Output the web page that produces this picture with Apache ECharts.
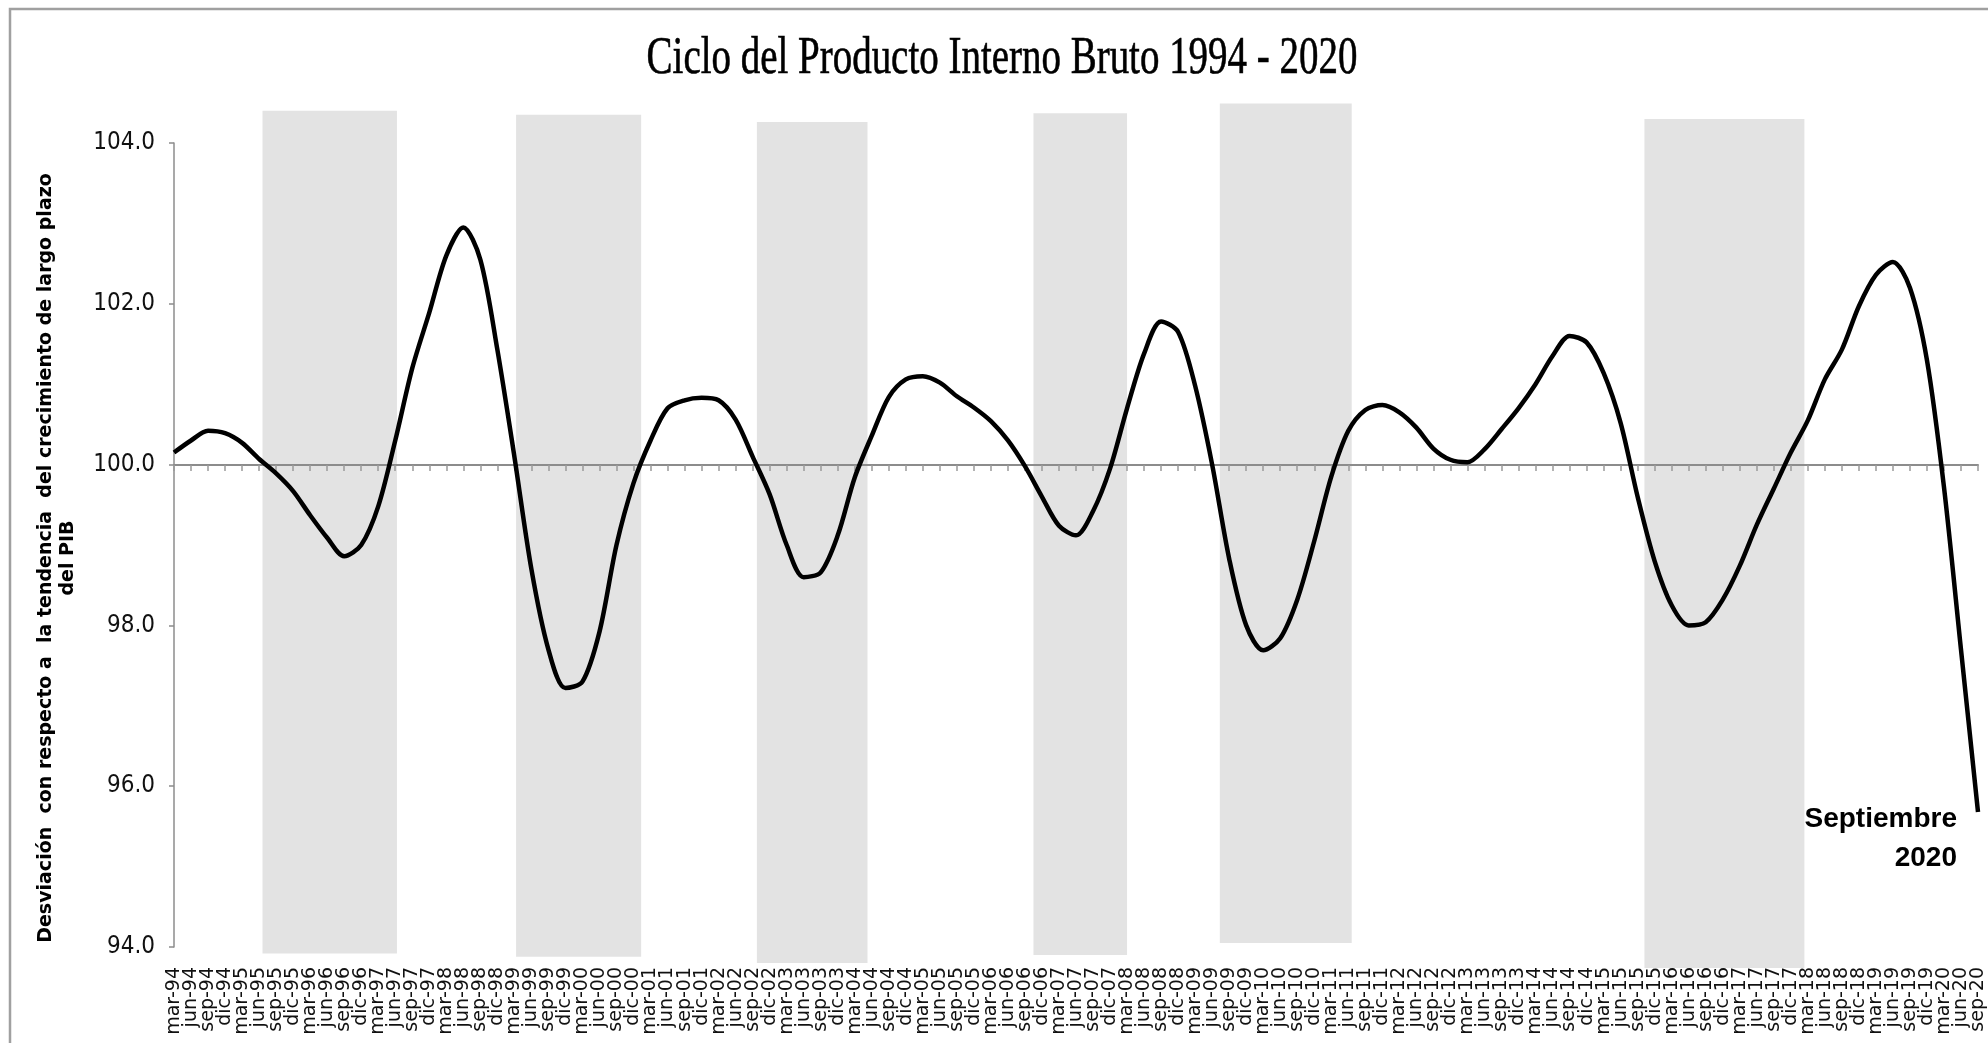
<!DOCTYPE html>
<html>
<head>
<meta charset="utf-8">
<title>Ciclo del PIB</title>
<script src="https://cdn.jsdelivr.net/npm/echarts@6/dist/echarts.min.js"></script>
<style>
    html, body { margin: 0; padding: 0; background: #fff; overflow: hidden; }
    #chart { width: 1988px; height: 1043px; }
</style>
</head>
<body>
<div id="chart"></div>
<script>
// trimestres: mar-94 ... sep-20
const months = ['mar', 'jun', 'sep', 'dic'];
const years = ['94', '95', '96', '97', '98', '99', '00', '01', '02', '03', '04', '05', '06',
    '07', '08', '09', '10', '11', '12', '13', '14', '15', '16', '17', '18', '19', '20'];
const quarters = [];
years.forEach(function (y, k) {
    const n = k === years.length - 1 ? 3 : 4;
    for (let m = 0; m < n; m++) quarters.push(months[m] + '-' + y);
});

// ciclo del PIB (indice, tendencia = 100)
const gdp = [
    100.15, 100.30, 100.42, 100.39, 100.27, 100.07, 99.89, 99.67, 99.37, 99.09,
    98.86, 99.00, 99.48, 100.30, 101.20, 101.89, 102.60, 102.95, 102.55, 101.43,
    100.10, 98.70, 97.70, 97.22, 97.30, 97.92, 99.00, 99.77, 100.30, 100.70,
    100.80, 100.83, 100.80, 100.56, 100.10, 99.63, 99.00, 98.60, 98.66, 99.12,
    99.84, 100.36, 100.84, 101.06, 101.10, 101.02, 100.85, 100.71, 100.54, 100.30,
    99.98, 99.60, 99.24, 99.12, 99.42, 99.95, 100.70, 101.38, 101.78, 101.65,
    100.98, 100.00, 98.83, 98.00, 97.69, 97.84, 98.32, 99.05, 99.85, 100.42,
    100.68, 100.74, 100.65, 100.46, 100.20, 100.06, 100.03, 100.19, 100.44, 100.70,
    101.00, 101.35, 101.60, 101.52, 101.14, 100.52, 99.60, 98.80, 98.25, 98.00,
    98.04, 98.32, 98.74, 99.25, 99.70, 100.15, 100.55, 101.06, 101.43, 101.97,
    102.36, 102.52, 102.20, 101.30, 99.72, 97.70, 95.68
];

// franjas grises (posicion en trimestres desde mar-94, y altura en el eje)
const bandStart = [5.2, 20.1, 34.25, 50.5, 61.45, 86.4];
const bandEnd = [13.1, 27.45, 40.75, 56.0, 69.2, 95.8];
const bandTop = [104.40, 104.35, 104.26, 104.37, 104.49, 104.30];
const bandBottom = [93.92, 93.88, 93.80, 93.90, 94.05, 93.74];

const yTicks = [94, 96, 98, 100, 102, 104];

var myChart = echarts.init(document.getElementById('chart'));

var option = {
    animation: false,
    backgroundColor: '#ffffff',
    grid: {
        left: 174,
        right: 10,
        top: 143,
        bottom: 96
    },
    xAxis: [
        {
            // etiquetas abajo
            type: 'category',
            data: quarters,
            boundaryGap: false,
            position: 'bottom',
            axisLine: { show: false, onZero: false },
            axisTick: { show: false },
            axisLabel: {
                rotate: 90,
                interval: 0,
                margin: 20,
                fontSize: 19,
                fontFamily: 'DejaVu Sans',
                color: '#111'
            }
        },
        {
            // linea del 100 con marcas
            type: 'category',
            data: quarters,
            boundaryGap: false,
            position: 'bottom',
            offset: -482,
            z: 3,
            axisLine: { show: true, onZero: false, lineStyle: { color: '#8c8c8c', width: 2 } },
            axisTick: { show: true, interval: 0, length: 6, lineStyle: { color: '#9a9a9a', width: 1.5 } },
            axisLabel: { show: false }
        },
        {
            type: 'value',
            min: 0,
            max: quarters.length - 1,
            show: false
        }
    ],
    yAxis: {
        type: 'value',
        min: yTicks[0],
        max: yTicks[yTicks.length - 1],
        interval: 2,
        axisLine: { show: true, lineStyle: { color: '#8c8c8c', width: 1.5 } },
        axisTick: { show: true, length: 5, lineStyle: { color: '#8c8c8c', width: 1.5 } },
        splitLine: { show: false },
        axisLabel: {
            formatter: function (v) { return v.toFixed(1); },
            margin: 19,
            fontSize: 24,
            fontFamily: "'Liberation Sans Narrow', 'DejaVu Sans Condensed', sans-serif",
            color: '#111'
        }
    },
    graphic: [
        {
            type: 'rect',
            shape: { x: 10, y: 9, width: 2000, height: 1100 },
            style: { fill: null, stroke: '#a0a0a0', lineWidth: 2.5 },
            silent: true
        },
        {
            type: 'group',
            x: 1002,
            y: 59,
            scaleX: 0.735,
            children: [{
                type: 'text',
                style: {
                    text: 'Ciclo del Producto Interno Bruto 1994 - 2020',
                    fontSize: 53,
                    fontFamily: 'Liberation Serif',
                    fill: '#000',
                    stroke: '#000',
                    lineWidth: 0.6,
                    align: 'center',
                    verticalAlign: 'middle'
                }
            }]
        },
        {
            type: 'text',
            x: 57,
            y: 558,
            rotation: Math.PI / 2,
            style: {
                text: 'Desviación  con respecto a  la tendencia  del crecimiento de largo plazo\ndel PIB',
                fontSize: 19,
                fontWeight: 'bold',
                fontFamily: 'DejaVu Sans',
                lineHeight: 22,
                fill: '#000',
                align: 'center',
                verticalAlign: 'middle'
            }
        },
        {
            type: 'text',
            x: 1957,
            y: 819,
            style: {
                text: 'Septiembre',
                fontSize: 28,
                fontWeight: 'bold',
                fontFamily: "'Liberation Sans Narrow', sans-serif",
                fill: '#000',
                align: 'right',
                verticalAlign: 'middle'
            }
        },
        {
            type: 'text',
            x: 1957,
            y: 858,
            style: {
                text: '2020',
                fontSize: 28,
                fontWeight: 'bold',
                fontFamily: "'Liberation Sans Narrow', sans-serif",
                fill: '#000',
                align: 'right',
                verticalAlign: 'middle'
            }
        }
    ],
    series: [
        {
            name: 'franjas',
            type: 'custom',
            xAxisIndex: 2,
            yAxisIndex: 0,
            z: 1,
            silent: true,
            clip: false,
            data: bandStart.map(function (s, k) {
                return [s, bandEnd[k], bandTop[k], bandBottom[k]];
            }),
            encode: { x: [0, 1], y: [2, 3] },
            renderItem: function (params, api) {
                var p0 = api.coord([api.value(0), api.value(2)]);
                var p1 = api.coord([api.value(1), api.value(3)]);
                return {
                    type: 'rect',
                    shape: { x: p0[0], y: p0[1], width: p1[0] - p0[0], height: p1[1] - p0[1] },
                    style: { fill: '#e3e3e3' }
                };
            }
        },
        {
            name: 'PIB',
            type: 'line',
            xAxisIndex: 0,
            yAxisIndex: 0,
            z: 4,
            data: gdp,
            smooth: 0.3,
            showSymbol: false,
            lineStyle: { color: '#000', width: 4.5 }
        }
    ]
};

myChart.setOption(option);
</script>
</body>
</html>
